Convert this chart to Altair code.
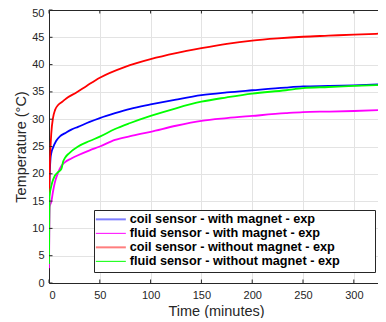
import altair as alt
import pandas as pd

# ---------------- data ----------------
series_names = [
    "coil sensor - with magnet - exp",
    "fluid sensor - with magnet - exp",
    "coil sensor - without magnet - exp",
    "fluid sensor - without magnet - exp",
]
line_colors = ["#0000ff", "#ff00ff", "#ff0000", "#00ff00"]

t_coil_mag = [0, 0.7, 1.5, 2.5, 4, 7, 11, 15.5, 22, 28.6, 40, 50, 65, 80, 100, 125, 150, 175, 200, 233, 250, 275, 300, 331]
v_coil_mag = [16, 20, 22.8, 24.0, 24.8, 26.0, 26.9, 27.4, 28.1, 28.6, 29.5, 30.2, 31.1, 31.9, 32.7, 33.6, 34.4, 34.9, 35.3, 35.8, 36.0, 36.1, 36.2, 36.4]

t_fluid_mag = [0, 0.3, 0.7, 2.3, 4, 5.6, 8.9, 12, 15.5, 22, 28.6, 40, 50, 65, 80, 100, 125, 150, 175, 200, 233, 250, 275, 300, 331]
v_fluid_mag = [2.7, 9, 14.0, 14.9, 16.8, 18.3, 20.2, 21.4, 22.1, 22.8, 23.4, 24.3, 25.0, 26.2, 26.9, 27.7, 28.8, 29.7, 30.2, 30.6, 31.1, 31.3, 31.4, 31.5, 31.7]

t_coil_nomag = [0, 0.4, 0.8, 1.4, 2.2, 4, 6, 9, 13, 17, 27, 37, 50, 75, 100, 125, 150, 175, 200, 225, 250, 275, 300, 331]
v_coil_nomag = [16, 18.5, 21.5, 24.5, 27.3, 30.3, 31.7, 32.6, 33.2, 33.8, 34.9, 36.1, 37.6, 39.6, 41.0, 42.1, 43.0, 43.8, 44.4, 44.8, 45.1, 45.3, 45.5, 45.7]

t_fluid_nomag = [0, 0.2, 0.5, 3, 5.6, 8.9, 12.2, 14, 16, 20, 28.6, 40, 50, 65, 80, 100, 125, 150, 175, 200, 233, 250, 275, 300, 331]
v_fluid_nomag = [3.5, 10, 15.8, 18.3, 19.6, 20.3, 20.9, 22.3, 23.0, 23.8, 25.0, 26.0, 26.8, 28.2, 29.3, 30.6, 32.0, 33.2, 34.0, 34.7, 35.3, 35.7, 35.9, 36.1, 36.3]

x_ticks = [0, 50, 100, 150, 200, 250, 300]
y_ticks = [0, 5, 10, 15, 20, 25, 30, 35, 40, 45, 50]
x_max = 323.8

# ---------------- build table ----------------
rows = []
for name, ts, vs in zip(series_names,
                        [t_coil_mag, t_fluid_mag, t_coil_nomag, t_fluid_nomag],
                        [v_coil_mag, v_fluid_mag, v_coil_nomag, v_fluid_nomag]):
    for t, v in zip(ts, vs):
        rows.append({"t": t, "v": v, "series": name})
df = pd.DataFrame(rows)
df_xt = pd.DataFrame({"t": x_ticks})
df_yt = pd.DataFrame({"v": y_ticks})

FONT = "Liberation Sans"
TXT = "#262626"
xscale = alt.Scale(domain=[0, x_max], nice=False, zero=False)
yscale = alt.Scale(domain=[0, 50], nice=False)

x_axis = alt.Axis(values=x_ticks, title="Time (minutes)", grid=True, ticks=False,
                  labelPadding=6, titleX=167, titleY=28, titleBaseline="middle")
y_axis = alt.Axis(values=y_ticks, title="Temperature (°C)", grid=True, ticks=False,
                  labelPadding=5, titleX=-28, titleBaseline="middle",
                  labelOffset={"condition": {"test": "datum.value == 50", "value": 3}, "value": 0})
x_enc = alt.X("t:Q", scale=xscale, axis=x_axis)
y_enc = alt.Y("v:Q", scale=yscale, axis=y_axis)

light = "indexof(['coil sensor - with magnet - exp','coil sensor - without magnet - exp'], datum.value) >= 0"

lines = alt.Chart(df).mark_line(clip=True, strokeWidth=1.8, interpolate="monotone").encode(
    x=x_enc,
    y=y_enc,
    color=alt.Color("series:N",
                    scale=alt.Scale(domain=series_names, range=line_colors),
                    legend=alt.Legend(
                        orient="none", legendX=45, legendY=200,
                        title="\u00a0", titleOrient="right", titlePadding=32,
                        symbolType="M-1,0H3", symbolSize=225, symbolOffset=0,
                        symbolOpacity=alt.ExprRef(expr=light + " ? 0.5 : 1"),
                        symbolStrokeWidth=alt.ExprRef(expr=light + " ? 2 : 1"),
                        labelFont=FONT, labelFontSize=12.7, labelFontWeight="bold",
                        labelColor="#000000", labelOffset=20, labelLimit=400,
                        fillColor="#ffffff", strokeColor=TXT, padding=3,
                        rowPadding=0,
                    )),
)

tick_len = 3.5
bottom_ticks = alt.Chart(df_xt).mark_rule(color=TXT, strokeWidth=1).encode(
    x=x_enc, y=alt.value(273), y2=alt.value(273 - tick_len))
left_ticks = alt.Chart(df_yt).mark_rule(color=TXT, strokeWidth=1).encode(
    y=y_enc, x=alt.value(0), x2=alt.value(tick_len))

inner = alt.layer(lines, bottom_ticks, left_ticks)

top_ticks = alt.Chart(df_xt).mark_rule(color=TXT, strokeWidth=1).encode(
    x=alt.X("t:Q", scale=xscale,
            axis=alt.Axis(orient="top", labels=False, ticks=False, grid=False, title=None,
                          domain=True)),
    y=alt.value(0), y2=alt.value(tick_len))

chart = alt.layer(inner, top_ticks).resolve_axis(x="independent").properties(
    width=329, height=273,
    autosize=alt.AutoSizeParams(type="none"),
    padding={"left": 41, "top": 2, "right": 0, "bottom": 35},
    background="#ffffff",
).configure_view(strokeWidth=0).configure_axis(
    labelFont=FONT, titleFont=FONT, labelFontSize=11, titleFontSize=14.5,
    labelColor=TXT, titleColor=TXT, titleFontWeight="normal",
    domainColor=TXT, domainWidth=1, gridColor="#e3e3e3", gridWidth=1,
)

chart.save("out.html", embed_options={"renderer": "svg", "actions": False})
